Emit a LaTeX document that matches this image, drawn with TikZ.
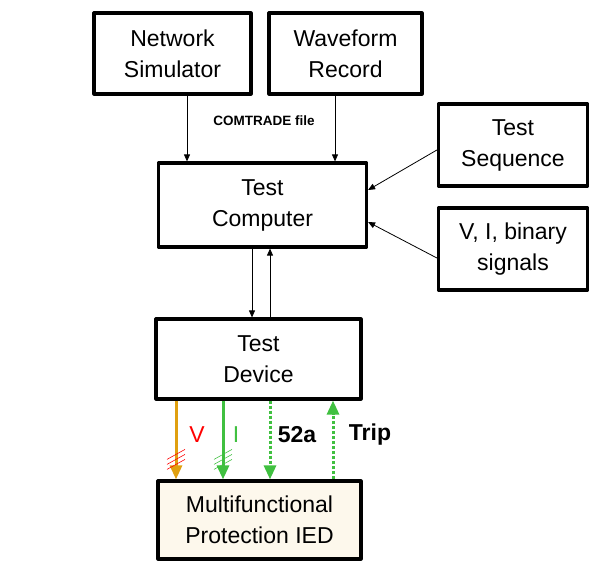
\documentclass[tikz,border=0pt]{standalone}
\usepackage{fontspec}
\setmainfont{Liberation Sans}
\usetikzlibrary{arrows.meta}
\definecolor{vorange}{HTML}{E0A010}
\definecolor{igreen}{HTML}{40C040}
\definecolor{iedfill}{HTML}{FDF8EC}
\begin{document}
\begin{tikzpicture}[x=1pt, y=-1pt, line join=round, >={Triangle[length=7pt,width=6pt]},
		box/.style={draw, line width=3.2pt, align=center, inner sep=0pt,
			font=\fontsize{23}{31}\selectfont},
		thinarrow/.style={->, line width=0.8pt},
		sigarrow/.style={line width=3pt, -{Triangle[length=14pt,width=12pt]}},
		siglabel/.style={font=\fontsize{23}{27}\selectfont}]
	\useasboundingbox (0,0) rectangle (589,564);
	% boxes
	\node [box, minimum width=157pt, minimum height=81pt] (sim) at (172.5,53.5) {Network\\Simulator};
	\node [box, minimum width=153pt, minimum height=81pt] (wave) at (345.5,53.5) {Waveform\\Record};
	\node [box, minimum width=208pt, minimum height=84pt] (comp) at (262.5,205) {Test\\Computer};
	\node [box, minimum width=149pt, minimum height=82pt] (seq) at (513,145) {Test\\Sequence};
	\node [box, minimum width=149pt, minimum height=82pt] (sig) at (513,249) {V, I, binary\\signals};
	\node [box, minimum width=205pt, minimum height=80pt] (dev) at (258.5,359) {Test\\Device};
	\node [box, fill=iedfill, minimum width=203pt, minimum height=78pt] (ied) at (259.5,520) {Multifunctional\\Protection IED};
	% inputs of the test computer
	\draw [thinarrow] ([xshift=14.5pt]sim.south) -- ([xshift=14.5pt]sim.south |- comp.north);
	\draw [thinarrow] ([xshift=-10.5pt]wave.south) -- ([xshift=-10.5pt]wave.south |- comp.north);
	\node [font=\bfseries\fontsize{13.5}{16}\selectfont] (ctf) at (264,121) {COMTRADE file};
	\draw [thinarrow] ([yshift=-5pt]seq.west) -- ([yshift=15pt]comp.east);
	\draw [thinarrow] ([yshift=-9pt]sig.west) -- ([yshift=-17pt]comp.east);
	% computer <-> device
	\draw [thinarrow] ([xshift=-10.5pt]comp.south) -- ([xshift=-10.5pt]comp.south |- dev.north);
	\draw [thinarrow] ([xshift=7.5pt]comp.south |- dev.north) -- ([xshift=7.5pt]comp.south);
	% device <-> IED
	\draw [sigarrow, vorange] ([xshift=-82.5pt]dev.south) coordinate (vtop) -- (vtop |- ied.north) coordinate (vbot);
	\draw [sigarrow, igreen] ([xshift=-35.5pt]dev.south) coordinate (itop) -- (itop |- ied.north) coordinate (ibot);
	\draw [sigarrow, igreen, dotted] ([xshift=11.5pt]dev.south) coordinate (atop) -- (atop |- ied.north);
	\draw [sigarrow, igreen, dotted] ([xshift=74.5pt]dev.north |- ied.north) coordinate (tbot) -- (tbot |- dev.south);
	\foreach \d in {0,5,10} {
		\draw [red, line width=0.6pt] ([xshift=-9pt, yshift=10+\d]vbot) -- ([xshift=9pt, yshift=20+\d]vbot);
		\draw [igreen, line width=0.6pt] ([xshift=-9pt, yshift=10+\d]ibot) -- ([xshift=9pt, yshift=20+\d]ibot);
	}
	\node [siglabel, red] (vlab) at (197,435) {V};
	\node [siglabel, igreen] (ilab) at (236,435) {I};
	\node [siglabel, font=\bfseries\fontsize{23}{27}\selectfont] (alab) at (297,435) {52a};
	\node [siglabel, font=\bfseries\fontsize{23}{27}\selectfont] (tlab) at (370,435) {Trip};
\end{tikzpicture}
\end{document}
